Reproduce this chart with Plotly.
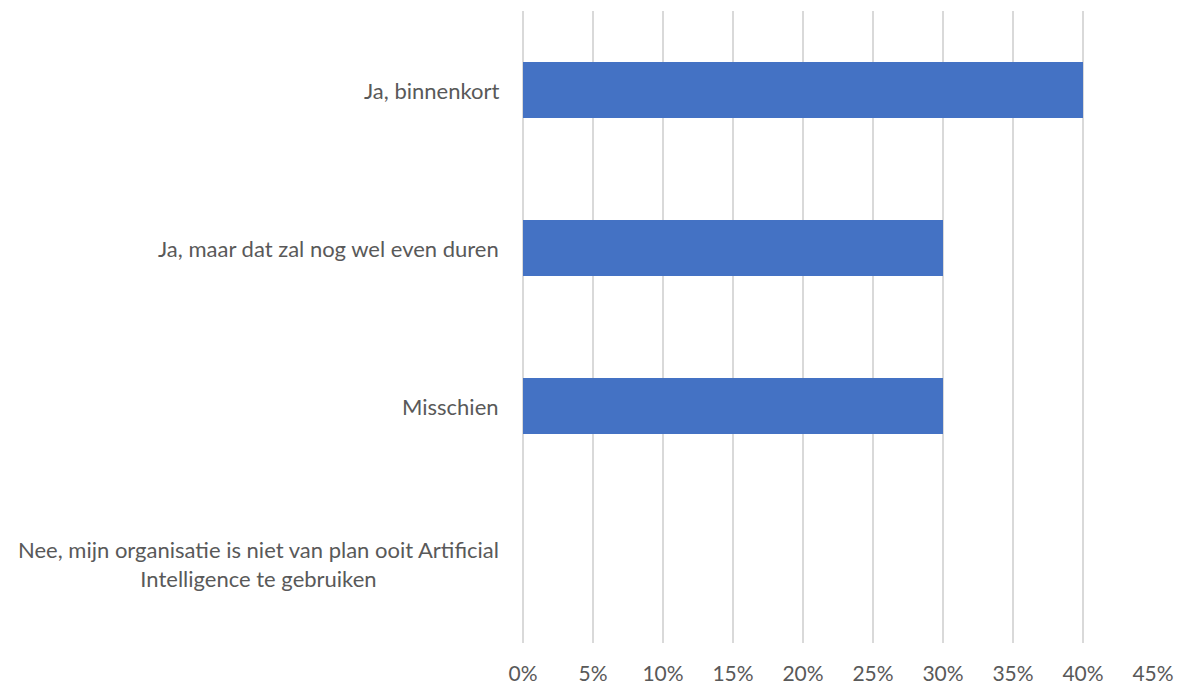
import plotly.graph_objects as go

# Data --------------------------------------------------------------------
categories = ["Ja, binnenkort",
              "Ja, maar dat zal nog wel even duren",
              "Misschien",
              "Nee, mijn organisatie is niet van plan ooit Artificial<br>Intelligence te gebruiken"]
values = [40, 30, 30, 0]
x_ticks = [0, 5, 10, 15, 20, 25, 30, 35, 40, 45]

text_color = "#595959"
font_family = "Lato"

fig = go.Figure()
fig.add_trace(go.Bar(
    x=values,
    y=categories,
    orientation="h",
    marker=dict(color="#4472C4", line=dict(width=0)),
))

# category labels as annotations so the wrapped label can be centred
for cat in categories:
    fig.add_annotation(
        x=0, xref="paper", xanchor="right", xshift=-22,
        y=cat, yref="y", yanchor="middle",
        text=cat, showarrow=False, align="center",
        font=dict(family=font_family, size=22, color=text_color),
    )

fig.update_layout(
    width=1181, height=686,
    margin=dict(l=523, r=28, t=11, b=43),
    paper_bgcolor="white",
    plot_bgcolor="white",
    bargap=0.646,
    showlegend=False,
    font=dict(family=font_family, size=21, color=text_color),
)

fig.update_xaxes(
    range=[0, 45],
    tickvals=x_ticks,
    ticktext=[f"{v}%" for v in x_ticks],
    showgrid=True, gridcolor="#D9D9D9", gridwidth=1.5,
    zeroline=True, zerolinecolor="#D9D9D9", zerolinewidth=1.5,
    showline=False,
    automargin=False,
    ticklabelstandoff=16,
    tickfont=dict(family=font_family, size=21, color=text_color),
)
fig.update_yaxes(
    categoryorder="array", categoryarray=categories,
    autorange="reversed",
    showticklabels=False,
    showgrid=False, zeroline=False, showline=False,
)

# drop the default page margin so the figure fills the window exactly
fig.write_html("out.html", config={"displayModeBar": False},
               post_script="document.body.style.margin='0';")
